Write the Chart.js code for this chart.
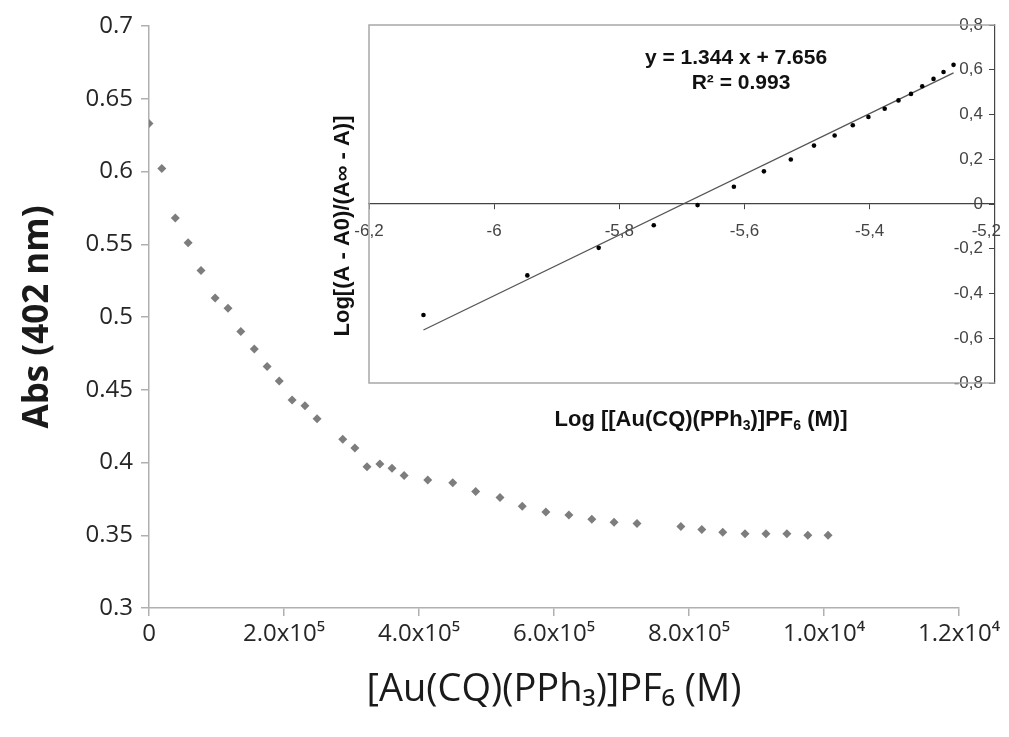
<!DOCTYPE html>
<html>
<head>
<meta charset="utf-8">
<script src="https://cdn.jsdelivr.net/npm/chart.js@4.4.1/dist/chart.umd.min.js"></script>
<style>
  body { margin: 0; background: #fff; overflow: hidden; }
  #wrap { position: relative; width: 1009px; height: 737px; background: #fff; overflow: hidden; }
  #mainChart { position: absolute; left: 0; top: 0; }
  #insetChart { position: absolute; left: 330px; top: 0; }
</style>
</head>
<body>
<div id="wrap">
  <canvas id="mainChart" width="1009" height="737"></canvas>
  <canvas id="insetChart" width="700" height="450"></canvas>
</div>
<script>
// main titration curve, x in units of 1e-5 M (as labelled on the axis)
const concX = [0, 0.19, 0.39, 0.58, 0.77, 0.98, 1.17, 1.36, 1.56, 1.75, 1.93, 2.12, 2.31, 2.49,
  2.87, 3.05, 3.23, 3.42, 3.60, 3.78, 4.13, 4.50, 4.84, 5.20, 5.53, 5.88, 6.22, 6.56, 6.89, 7.23,
  7.88, 8.19, 8.50, 8.83, 9.14, 9.45, 9.76, 10.06];
const absValues = [0.633, 0.602, 0.568, 0.551, 0.532, 0.513, 0.506, 0.490, 0.478, 0.466, 0.456,
  0.443, 0.439, 0.430, 0.416, 0.410, 0.397, 0.399, 0.396, 0.391, 0.388, 0.386, 0.380, 0.376,
  0.370, 0.366, 0.364, 0.361, 0.359, 0.358, 0.356, 0.354, 0.352, 0.351, 0.351, 0.351, 0.350, 0.350];
const xTickLabels = ['0', '2.0x10⁵', '4.0x10⁵', '6.0x10⁵', '8.0x10⁵', '1.0x10⁴', '1.2x10⁴'];

// inset: log plot and linear fit
const logX = [-6.113, -5.947, -5.833, -5.745, -5.675, -5.617, -5.569, -5.526, -5.489, -5.456,
  -5.427, -5.402, -5.376, -5.354, -5.334, -5.316, -5.298, -5.282, -5.266];
const logY = [-0.496, -0.319, -0.196, -0.095, -0.005, 0.077, 0.146, 0.199, 0.261, 0.306, 0.352,
  0.389, 0.426, 0.463, 0.492, 0.526, 0.559, 0.590, 0.622];
const fitX = [-6.113, -5.266];
const fitY = [-0.563, 0.586];
const fitText = ['y = 1.344 x + 7.656', 'R² = 0.993'];

const tickFont = { family: '"Open Sans", "Noto Sans", sans-serif', size: 24 };
const insetFont = { family: '"Liberation Sans", Arial, sans-serif', size: 17 };
const boldInset = 'bold 21px "Liberation Sans", Arial, sans-serif';

new Chart(document.getElementById('mainChart'), {
  type: 'scatter',
  data: {
    datasets: [{
      data: concX.map((x, i) => ({ x, y: absValues[i] })),
      pointStyle: 'rectRot',
      pointRadius: 4.5,
      backgroundColor: '#7d7d7d',
      borderColor: '#7d7d7d',
      borderWidth: 0,
    }],
  },
  options: {
    responsive: false,
    animation: false,
    devicePixelRatio: 1,
    layout: { padding: { top: 26, right: 50, left: 0, bottom: 0 } },
    plugins: { legend: { display: false }, tooltip: { enabled: false } },
    scales: {
      x: {
        type: 'linear',
        min: 0,
        max: 12,
        afterFit: (s) => { s.height = 129; },
        border: { color: '#b0b0b0', width: 1.5 },
        grid: { drawOnChartArea: false, tickLength: 8, color: '#b0b0b0', lineWidth: 1.5 },
        ticks: {
          stepSize: 2,
          padding: 4,
          color: '#262626',
          font: tickFont,
          callback: (v) => xTickLabels[Math.round(v / 2)],
        },
        title: {
          display: true,
          text: '[Au(CQ)(PPh₃)]PF₆ (M)',
          color: '#1a1a1a',
          font: { family: '"Open Sans", "Noto Sans", sans-serif', size: 38 },
          padding: { top: 0, bottom: 24 },
        },
      },
      y: {
        min: 0.3,
        max: 0.7,
        afterFit: (s) => { s.width = 149; },
        border: { color: '#b0b0b0', width: 1.5 },
        grid: { drawOnChartArea: false, tickLength: 8, color: '#b0b0b0', lineWidth: 1.5 },
        ticks: {
          stepSize: 0.05,
          padding: 8,
          color: '#262626',
          font: tickFont,
          callback: (v) => String(Math.round(v * 100) / 100),
        },
        title: {
          display: true,
          text: 'Abs (402 nm)',
          color: '#1a1a1a',
          font: { family: '"Open Sans", "Noto Sans", sans-serif', size: 35, weight: 'bold' },
          padding: { top: 17, bottom: 0 },
        },
      },
    },
  },
});

// frame on left, top and bottom of the inset plot area
const insetFrame = {
  id: 'insetFrame',
  beforeDatasetsDraw(chart) {
    const { ctx, chartArea: a } = chart;
    ctx.save();
    ctx.strokeStyle = '#a8a8a8';
    ctx.lineWidth = 1.5;
    ctx.beginPath();
    ctx.moveTo(a.right, a.top);
    ctx.lineTo(a.left, a.top);
    ctx.lineTo(a.left, a.bottom);
    ctx.lineTo(a.right, a.bottom);
    ctx.stroke();
    ctx.restore();
  },
};

// draws pieces of text, shifting subscripts down
function drawRich(ctx, parts, cx, cy, size) {
  const big = 'bold ' + size + 'px "Liberation Sans", Arial, sans-serif';
  const small = 'bold ' + Math.round(size * 0.62) + 'px "Liberation Sans", Arial, sans-serif';
  let total = 0;
  parts.forEach((p) => { ctx.font = p.sub ? small : big; total += ctx.measureText(p.t).width; });
  let x = cx - total / 2;
  ctx.textAlign = 'left';
  parts.forEach((p) => {
    ctx.font = p.sub ? small : big;
    ctx.fillText(p.t, x, cy + (p.sub ? size * 0.3 : 0));
    x += ctx.measureText(p.t).width;
  });
}

const insetText = {
  id: 'insetText',
  afterDraw(chart) {
    const { ctx } = chart;
    ctx.save();
    ctx.fillStyle = '#111';
    ctx.textBaseline = 'middle';
    ctx.textAlign = 'center';
    ctx.font = boldInset;
    ctx.fillText(fitText[0], 406, 58);
    ctx.fillText(fitText[1], 411, 83);
    drawRich(ctx, [
      { t: 'Log [[Au(CQ)(PPh' }, { t: '3', sub: true }, { t: ')]PF' }, { t: '6', sub: true }, { t: ' (M)]' },
    ], 371, 420, 22);
    ctx.translate(13, 226);
    ctx.rotate(-Math.PI / 2);
    ctx.textAlign = 'center';
    ctx.font = 'bold 22px "Liberation Sans", Arial, sans-serif';
    ctx.fillText('Log[(A - A0)/(A∞ - A)]', 0, 0);
    ctx.restore();
  },
};

const commaLabel = (v) => String(Math.round(v * 10) / 10).replace('.', ',');

new Chart(document.getElementById('insetChart'), {
  type: 'scatter',
  data: {
    datasets: [
      {
        data: logX.map((x, i) => ({ x, y: logY[i] })),
        pointRadius: 2.3,
        backgroundColor: '#000',
        borderWidth: 0,
      },
      {
        type: 'line',
        data: fitX.map((x, i) => ({ x, y: fitY[i] })),
        borderColor: '#555',
        borderWidth: 1.3,
        pointRadius: 0,
      },
    ],
  },
  options: {
    responsive: false,
    animation: false,
    devicePixelRatio: 1,
    layout: { padding: { top: 25, right: 33, left: 39, bottom: 67 } },
    plugins: { legend: { display: false }, tooltip: { enabled: false } },
    scales: {
      x: {
        type: 'linear',
        min: -6.2,
        max: -5.2,
        position: { y: 0 },
        border: { color: '#444', width: 1.2 },
        grid: { drawOnChartArea: false, tickLength: 5, color: '#444' },
        ticks: {
          stepSize: 0.2,
          padding: 12,
          color: '#444',
          font: insetFont,
          // last label is pulled left so it stays inside the picture
          callback: (v, i, ticks) => commaLabel(v) + (i === ticks.length - 1 ? '\u2002\u2002' : ''),
        },
      },
      y: {
        min: -0.8,
        max: 0.8,
        position: { x: -5.2 },
        border: { color: '#444', width: 1.2 },
        grid: { drawOnChartArea: false, tickLength: 5, color: '#444' },
        ticks: {
          stepSize: 0.2,
          color: '#444',
          font: insetFont,
          // labels sit right-aligned on the axis line, so pad them away from it
          callback: (v) => commaLabel(v) + '\u2002\u2009',
        },
      },
    },
  },
  plugins: [insetFrame, insetText],
});
</script>
</body>
</html>
